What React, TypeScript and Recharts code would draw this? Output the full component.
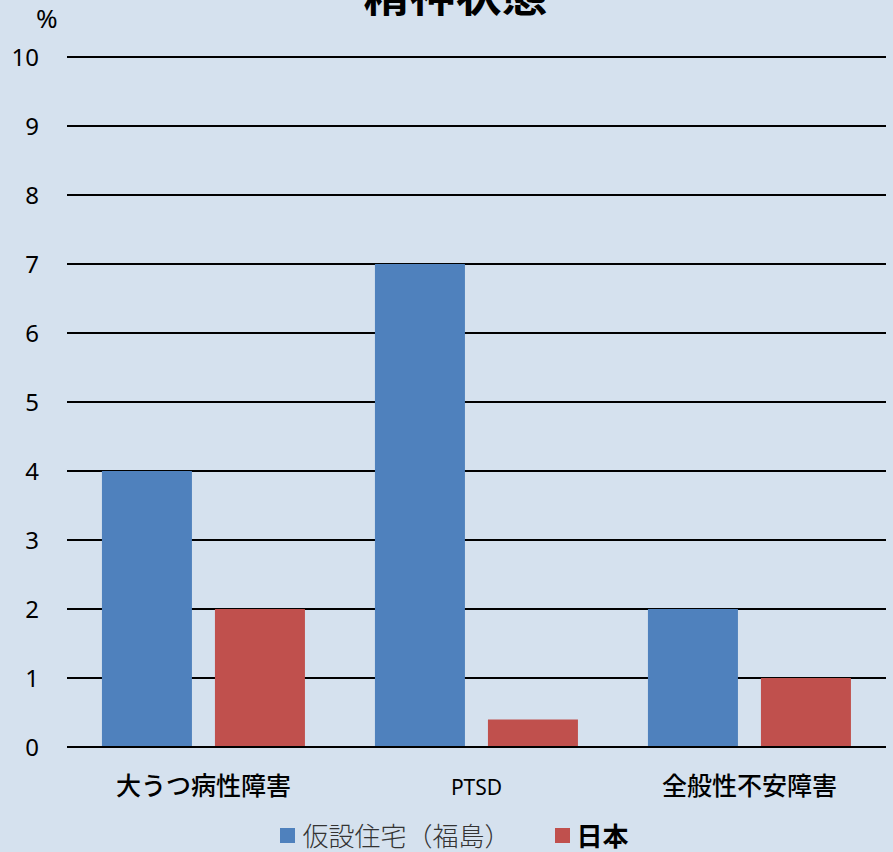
import { BarChart, Bar, XAxis, YAxis, CartesianGrid } from "recharts";

const categories = ["大うつ病性障害", "PTSD", "全般性不安障害"];
const kasetsu = [4, 7, 2];
const nihon = [2, 0.4, 1];
const yTicks = [0, 1, 2, 3, 4, 5, 6, 7, 8, 9, 10];
const seriesNames = ["仮設住宅（福島）", "日本"];
const colors = ["#4F81BD", "#C0504D"];

const data = categories.map((name, i) => ({
  name,
  kasetsu: kasetsu[i],
  nihon: nihon[i],
}));

const FONT = "'Noto Sans CJK JP', 'Noto Sans', sans-serif";
const BG = "#D5E1EE";

function CatTick(props: any) {
  const { x, y, payload } = props;
  const latin = payload.value === "PTSD";
  return (
    <text
      x={x}
      y={y + 40}
      textAnchor="middle"
      fontFamily={latin ? "'Noto Sans', sans-serif" : FONT}
      fontSize={latin ? 21 : 25}
      fontWeight={latin ? 400 : 500}
      fill="#000"
    >
      {payload.value}
    </text>
  );
}

export default function App() {
  return (
    <div
      style={{
        position: "absolute",
        top: 0,
        left: 0,
        width: 893,
        height: 852,
        background: BG,
        overflow: "hidden",
      }}
    >
      <div
        style={{
          position: "absolute",
          top: -42,
          left: 0,
          width: 893,
          textAlign: "center",
          fontFamily: FONT,
          fontSize: 46,
          fontWeight: 700,
          paddingLeft: 18,
          boxSizing: "border-box",
          lineHeight: "normal",
        }}
      >
        精神状態
      </div>
      <div
        style={{
          position: "absolute",
          top: 0,
          left: 36,
          fontFamily: "'Noto Sans', sans-serif",
          fontSize: 26,
        }}
      >
        %
      </div>
      <BarChart
        width={893}
        height={852}
        data={data}
        margin={{ top: 57, right: 7, bottom: 0, left: 0 }}
        barCategoryGap="12.8%"
        barGap={23}
      >
        <CartesianGrid
          horizontal
          vertical={false}
          stroke="#000"
          strokeWidth={2}
        />
        <XAxis
          dataKey="name"
          tick={<CatTick />}
          tickLine={false}
          axisLine={{ stroke: "#000", strokeWidth: 2 }}
          interval={0}
          height={105}
        />
        <YAxis
          width={67}
          domain={[0, 10]}
          ticks={yTicks}
          interval={0}
          axisLine={false}
          tickLine={false}
          tick={{ fill: "#000", fontSize: 24, fontFamily: "'Noto Sans', sans-serif" }}
          tickMargin={22}
        />
        <Bar dataKey="kasetsu" name={seriesNames[0]} fill={colors[0]} isAnimationActive={false} />
        <Bar dataKey="nihon" name={seriesNames[1]} fill={colors[1]} isAnimationActive={false} />
      </BarChart>
      <div
        style={{
          position: "absolute",
          top: 818,
          left: 0,
          width: 893,
          display: "flex",
          justifyContent: "center",
          alignItems: "center",
          fontFamily: FONT,
          fontSize: 26,
          lineHeight: "34px",
          paddingLeft: 16,
          boxSizing: "border-box",
        }}
      >
        <span style={{ display: "flex", alignItems: "center", marginRight: 44 }}>
          <span style={{ width: 15, height: 15, background: colors[0], marginRight: 7 }} />
          <span style={{ fontWeight: 300, color: "#333" }}>{seriesNames[0]}</span>
        </span>
        <span style={{ display: "flex", alignItems: "center" }}>
          <span style={{ width: 15, height: 15, background: colors[1], marginRight: 7 }} />
          <span style={{ fontWeight: 700, color: "#000" }}>{seriesNames[1]}</span>
        </span>
      </div>
    </div>
  );
}
